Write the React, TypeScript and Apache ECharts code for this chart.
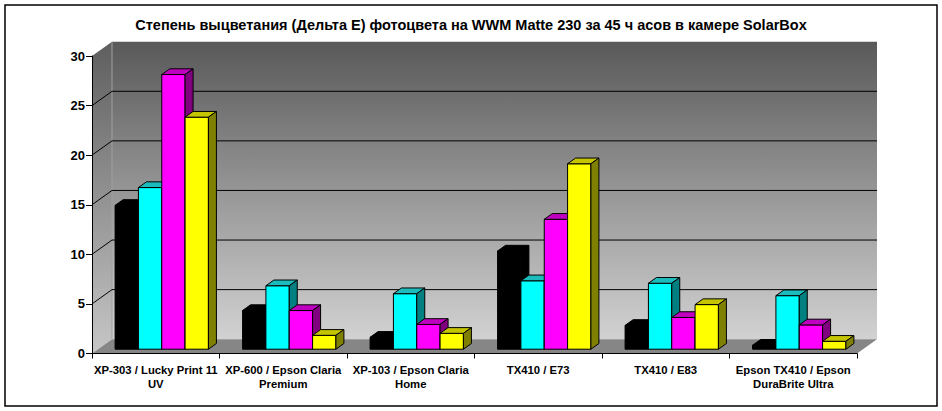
import React, { useEffect, useRef } from "react";
import * as echarts from "echarts";

const TITLE =
  "Степень выцветания (Дельта Е) фотоцвета на WWM Matte 230 за 45 ч асов в камере SolarBox";

const categories = [
  "XP-303 / Lucky Print 11\nUV",
  "XP-600 / Epson Claria\nPremium",
  "XP-103 / Epson Claria\nHome",
  "TX410 / E73",
  "TX410 / E83",
  "Epson TX410 / Epson\nDuraBrite Ultra",
];

const blackValues = [14.5, 3.9, 1.2, 9.9, 2.4, 0.4];
const cyanValues = [16.3, 6.4, 5.6, 6.9, 6.65, 5.4];
const magentaValues = [27.7, 3.9, 2.5, 13.1, 3.2, 2.45];
const yellowValues = [23.4, 1.4, 1.6, 18.7, 4.5, 0.8];

const yMin = 0;
const yMax = 30;
const yInterval = 5;
const gridTicks = [5, 10, 15, 20, 25];

const seriesDefs = [
  { name: "Black", values: blackValues, front: "#000000", top: "#000000", side: "#000000" },
  { name: "Cyan", values: cyanValues, front: "#00ffff", top: "#1cbcbc", side: "#008080" },
  { name: "Magenta", values: magentaValues, front: "#ff00ff", top: "#c000c0", side: "#800080" },
  { name: "Yellow", values: yellowValues, front: "#ffff00", top: "#c4c400", side: "#808000" },
];

// 3D projection constants (decoration geometry)
const DX = 20;
const DY = -14.3;
const FRONT = 0.3;
const BACK = 0.7;
const BAR_FRAC = 0.183;

const FONT = "'Liberation Sans', Arial, Helvetica, sans-serif";

export default function App() {
  const ref = useRef<HTMLDivElement>(null);

  useEffect(() => {
    if (!ref.current) return;
    const chart = echarts.init(ref.current, null, { renderer: "svg" });

    const wallSeries = {
      type: "custom",
      silent: true,
      clip: false,
      z: 1,
      data: [[0, 0]],
      renderItem: (params: any, api: any) => {
        const cs = params.coordSys;
        const x0 = cs.x;
        const x1 = cs.x + cs.width;
        const yB = cs.y + cs.height;
        const yT = cs.y;
        const children: any[] = [];
        children.push({
          type: "polygon",
          shape: { points: [[x0, yB], [x0, yT], [x0 + DX, yT + DY], [x0 + DX, yB + DY]] },
          style: {
            fill: new echarts.graphic.LinearGradient(0, 0, 0, 1, [
              { offset: 0, color: "#5e5e5e" },
              { offset: 1, color: "#c6c6c6" },
            ]),
          },
        });
        children.push({
          type: "rect",
          shape: { x: x0 + DX, y: yT + DY, width: x1 - x0, height: yB - yT },
          style: {
            fill: new echarts.graphic.LinearGradient(0, 0, 0, 1, [
              { offset: 0, color: "#595959" },
              { offset: 1, color: "#d2d2d2" },
            ]),
          },
        });
        children.push({
          type: "polygon",
          shape: { points: [[x0, yB], [x0 + DX, yB + DY], [x1 + DX, yB + DY], [x1, yB]] },
          style: { fill: "#868686" },
        });
        children.push({
          type: "line",
          shape: { x1: x0 + DX, y1: yT + DY, x2: x0 + DX, y2: yB + DY },
          style: { stroke: "#a0a0a0", lineWidth: 1 },
        });
        gridTicks.forEach((t) => {
          const y = api.coord([0, t])[1];
          children.push({
            type: "line",
            shape: { x1: x0 + DX, y1: y + DY, x2: x1 + DX, y2: y + DY },
            style: { stroke: "#000", lineWidth: 1 },
          });
          children.push({
            type: "line",
            shape: { x1: x0, y1: y, x2: x0 + DX, y2: y + DY },
            style: { stroke: "#000", lineWidth: 1 },
          });
        });
        return { type: "group", children };
      },
    };

    const barSeries = seriesDefs.map((def, s) => ({
      type: "custom",
      name: def.name,
      clip: false,
      z: 2,
      data: def.values.map((v, i) => [i, v]),
      encode: { x: 0, y: 1 },
      renderItem: (params: any, api: any) => {
        const i = api.value(0);
        const v = api.value(1);
        const base = api.coord([i, 0]);
        const cx = base[0];
        const y0 = base[1];
        const yTop = api.coord([i, v])[1];
        const h = y0 - yTop;
        const cw = api.size([1, 0])[0];
        const bw = cw * BAR_FRAC;
        const L = cx - 2 * bw + s * bw + FRONT * DX;
        const R = L + bw;
        const bottom = y0 + FRONT * DY;
        const top = bottom - h;
        const ddx = (BACK - FRONT) * DX;
        const ddy = (BACK - FRONT) * DY;
        const st = { stroke: "#000", lineWidth: 1, lineJoin: "round" };
        return {
          type: "group",
          children: [
            {
              type: "polygon",
              shape: { points: [[L, bottom], [R, bottom], [R, top], [L, top]] },
              style: { ...st, fill: def.front },
            },
            {
              type: "polygon",
              shape: { points: [[L, top], [R, top], [R + ddx, top + ddy], [L + ddx, top + ddy]] },
              style: { ...st, fill: def.top },
            },
            {
              type: "polygon",
              shape: { points: [[R, top], [R + ddx, top + ddy], [R + ddx, bottom + ddy], [R, bottom]] },
              style: { ...st, fill: def.side },
            },
          ],
        };
      },
    }));

    chart.setOption({
      animation: false,
      backgroundColor: "#ffffff",
      title: {
        text: TITLE,
        left: "center",
        top: 17,
        padding: 0,
        textStyle: { fontFamily: FONT, fontSize: 14.5, fontWeight: "bold", color: "#000" },
      },
      grid: { left: 92, right: 85, top: 56, bottom: 57.5 },
      xAxis: {
        type: "category",
        data: categories,
        axisLine: { show: true, lineStyle: { color: "#000", width: 1 } },
        axisTick: { show: true, length: 5, lineStyle: { color: "#000" } },
        axisLabel: {
          interval: 0,
          margin: 9,
          fontFamily: FONT,
          fontSize: 11.3,
          fontWeight: "bold",
          lineHeight: 14,
          color: "#000",
        },
        splitLine: { show: false },
        z: 5,
      },
      yAxis: {
        type: "value",
        min: yMin,
        max: yMax,
        interval: yInterval,
        axisLine: { show: true, lineStyle: { color: "#000", width: 1 } },
        axisTick: { show: true, length: 6, lineStyle: { color: "#000" } },
        axisLabel: {
          margin: 7,
          fontFamily: FONT,
          fontSize: 13,
          fontWeight: "bold",
          color: "#000",
        },
        splitLine: { show: false },
        z: 5,
      },
      graphic: [
        {
          type: "rect",
          shape: { x: 5, y: 5, width: 932, height: 401 },
          style: { fill: "none", stroke: "#000", lineWidth: 1.5 },
          silent: true,
          z: 100,
        },
      ],
      series: [wallSeries, ...barSeries],
    });

    return () => chart.dispose();
  }, []);

  return (
    <div
      ref={ref}
      style={{ position: "absolute", left: 0, top: 0, width: 942, height: 411 }}
    />
  );
}
